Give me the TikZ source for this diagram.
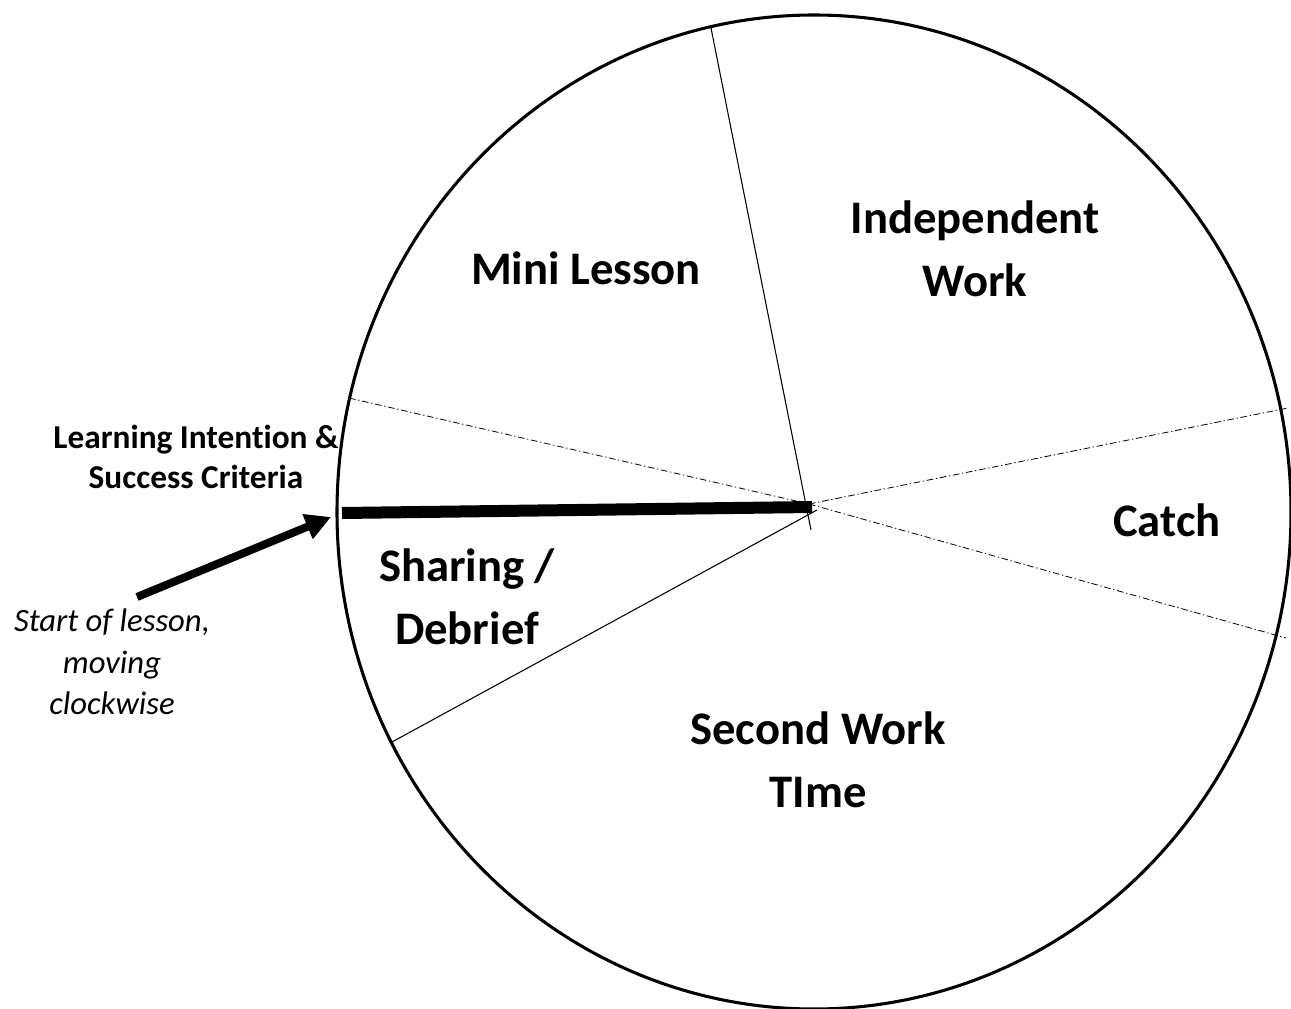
\documentclass[tikz,border=0pt]{standalone}
\usepackage{fontspec}
\setmainfont{Carlito}[RawFeature={-liga}]
\usepackage{tikz}
\usetikzlibrary{positioning}
\usetikzlibrary{arrows.meta}

\begin{document}
\begin{tikzpicture}[
            x = 0.75pt, % one unit per pixel
            y = -0.75pt, % y runs downwards
            rim/.style = {line width = 2.3pt},
            spoke/.style = {line width = 0.8pt},
            dashspoke/.style = {line width = 0.6pt, dash pattern = on 5pt off 2pt on 1pt off 2pt},
            start/.style = {line width = 9pt},
            label/.style = {align = center, inner sep = 0pt, font = \fontsize{35}{47}\selectfont\bfseries},
            note/.style = {align = center, inner sep = 0pt}
        ]

        \useasboundingbox (0,0) rectangle (1291,1009);

	% the clock face
        \draw[rim] (814,512) ellipse [x radius = 477, y radius = 497];

	% centre and points on the rim
        \coordinate (hub) at (809,504);
        \coordinate (past) at (811,530);
        \coordinate (top) at (711,28);
        \coordinate (upleft) at (349,398);
        \coordinate (upright) at (1288,408);
        \coordinate (downright) at (1286,638);
        \coordinate (downleft) at (392,742);
        \coordinate (barstart) at (342,513);
        \coordinate (barend) at (812,507);

        \draw[spoke] (top) -- (past);
        \draw[spoke] (hub) ++(8,6) -- (downleft);
        \draw[dashspoke] (upleft) -- (hub);
        \draw[dashspoke] (hub) -- (upright);
        \draw[dashspoke] (hub) -- (downright);

        % start of the lesson
        \draw[start] (barstart) -- (barend);

	% segments
        \node[label] (mini) at (586,268) {Mini Lesson};
        \node[label] (indep) at (975,249) {Independent\\Work};
        \node[label] (catch) at (1167,520) {Catch};
        \node[label] (second) at (818,760) {Second Work\\TIme};
        \node[label] (share) at (467,597) {Sharing /\\Debrief};

	% notes outside
        \node[note, font = \fontsize{25}{30}\selectfont\bfseries] (intent) at (196,457) {Learning Intention \&\\Success Criteria};
        \node[note, font = \fontsize{24.5}{31}\selectfont\itshape] (begin) at (112,662) {Start of lesson,\\moving\\clockwise};

        \coordinate (tail) at (137,597);
        \coordinate (tip) at (331,517);
        \draw[line width = 6pt, -{Triangle[length = 19pt, width = 19pt]}] (tail) -- (tip);

  \end{tikzpicture}
\end{document}
